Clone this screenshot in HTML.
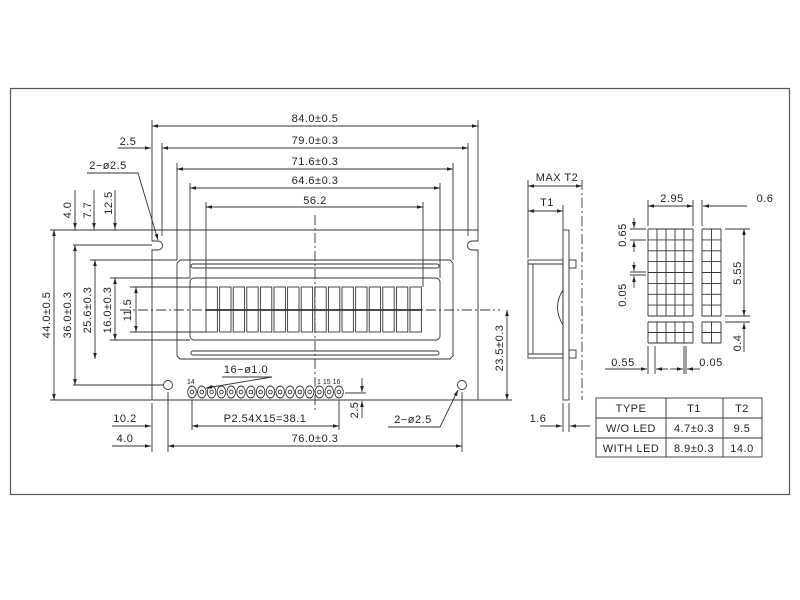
<!DOCTYPE html>
<html><head><meta charset="utf-8"><style>
html,body{margin:0;padding:0;background:#fff;}
svg{display:block;}
text{font-family:"Liberation Sans",sans-serif;font-size:11px;fill:#222;letter-spacing:0.5px;}
.s{font-size:7px;letter-spacing:0;}
</style></head><body>
<svg width="800" height="600" viewBox="0 0 800 600" xmlns="http://www.w3.org/2000/svg">
<defs>
<marker id="a" viewBox="0 0 10 6" refX="10" refY="3" markerWidth="7" markerHeight="4" orient="auto-start-reverse"><path d="M0,0L10,3L0,6z" fill="#222"/></marker>
</defs>
<rect x="10.5" y="88.5" width="779" height="406" fill="none" stroke="#555" stroke-width="1.2"/>
<g fill="none" stroke="#333" stroke-width="0.9">
<path d="M152,230 H478 V241 H472 A4,4 0 0 0 472,250 H478 V400 H152 V250 H158 A4,4 0 0 0 158,241 H152 Z"/>
<path d="M180,260 H450 L453,263 V356 L450,359 H180 L177,356 V263 Z"/>
<rect x="190" y="278" width="250" height="62" rx="4"/>
<rect x="191" y="264" width="248" height="4" rx="2"/>
<rect x="191" y="351" width="248" height="4" rx="2"/>
<g>
<rect x="206" y="287" width="11.4" height="45"/><rect x="219.6" y="287" width="11.4" height="45"/><rect x="233.2" y="287" width="11.4" height="45"/><rect x="246.8" y="287" width="11.4" height="45"/><rect x="260.4" y="287" width="11.4" height="45"/><rect x="274" y="287" width="11.4" height="45"/><rect x="287.6" y="287" width="11.4" height="45"/><rect x="301.2" y="287" width="11.4" height="45"/><rect x="314.8" y="287" width="11.4" height="45"/><rect x="328.4" y="287" width="11.4" height="45"/><rect x="342" y="287" width="11.4" height="45"/><rect x="355.6" y="287" width="11.4" height="45"/><rect x="369.2" y="287" width="11.4" height="45"/><rect x="382.8" y="287" width="11.4" height="45"/><rect x="396.4" y="287" width="11.4" height="45"/><rect x="410" y="287" width="11.4" height="45"/>
</g>
<circle cx="168" cy="385" r="4.5"/><circle cx="462" cy="385" r="4.5"/>
<g>
<ellipse cx="192" cy="392" rx="4.3" ry="6"/><ellipse cx="201.8" cy="392" rx="4.3" ry="6"/><ellipse cx="211.6" cy="392" rx="4.3" ry="6"/><ellipse cx="221.4" cy="392" rx="4.3" ry="6"/><ellipse cx="231.2" cy="392" rx="4.3" ry="6"/><ellipse cx="241" cy="392" rx="4.3" ry="6"/><ellipse cx="250.8" cy="392" rx="4.3" ry="6"/><ellipse cx="260.6" cy="392" rx="4.3" ry="6"/><ellipse cx="270.4" cy="392" rx="4.3" ry="6"/><ellipse cx="280.2" cy="392" rx="4.3" ry="6"/><ellipse cx="290" cy="392" rx="4.3" ry="6"/><ellipse cx="299.8" cy="392" rx="4.3" ry="6"/><ellipse cx="309.6" cy="392" rx="4.3" ry="6"/><ellipse cx="319.4" cy="392" rx="4.3" ry="6"/><ellipse cx="329.2" cy="392" rx="4.3" ry="6"/><ellipse cx="339" cy="392" rx="4.3" ry="6"/>
<circle cx="192" cy="392" r="1.8"/><circle cx="201.8" cy="392" r="1.8"/><circle cx="211.6" cy="392" r="1.8"/><circle cx="221.4" cy="392" r="1.8"/><circle cx="231.2" cy="392" r="1.8"/><circle cx="241" cy="392" r="1.8"/><circle cx="250.8" cy="392" r="1.8"/><circle cx="260.6" cy="392" r="1.8"/><circle cx="270.4" cy="392" r="1.8"/><circle cx="280.2" cy="392" r="1.8"/><circle cx="290" cy="392" r="1.8"/><circle cx="299.8" cy="392" r="1.8"/><circle cx="309.6" cy="392" r="1.8"/><circle cx="319.4" cy="392" r="1.8"/><circle cx="329.2" cy="392" r="1.8"/><circle cx="339" cy="392" r="1.8"/>
</g>
<path d="M120,310 H500" stroke-dasharray="10,3,2,3"/>
<path d="M206,310 H422" stroke-width="1.8"/>
<path d="M315,215 V412" stroke-dasharray="10,3,2,3"/>
<path d="M152,120 V230 M478,120 V230 M162,143 V236 M468,143 V236 M177,163 V260 M453,163 V260 M190,183 V278 M440,183 V278 M206,202 V287 M423,202 V287"/>
<path d="M50,230 H152 M73,245 H152 M90,260 H177 M110,278 H190 M110,340 H190 M130,287 H206 M130,332 H206 M73,385 H163 M50,400 H152 M478,400 H512"/>
<path d="M152,403 V452 M168,392 V452 M462,392 V452 M192,400 V430 M339,400 V430 M345,393 H366 M345,400 H366"/>
<path d="M75,190 V230 M94,190 V230 M115,190 V230"/>
<g marker-start="url(#a)" marker-end="url(#a)">
<path d="M152,126 H478"/><path d="M162,148 H468"/><path d="M177,169 H453"/><path d="M190,188 H440"/><path d="M206,207 H423"/>
<path d="M54,230 V400"/><path d="M75,245 V385"/><path d="M95,260 V359"/><path d="M115,278 V340"/><path d="M136,287 V332"/>
<path d="M192,426 H339"/><path d="M168,446 H462"/><path d="M507,310 V400"/>
</g>
<g marker-end="url(#a)">
<path d="M118,148 H151"/><path d="M75,212 V229"/><path d="M94,212 V229"/><path d="M115,212 V229"/>
<path d="M112,426 H151"/><path d="M112,446 H151"/><path d="M362,378 V392"/><path d="M362,418 V401"/>
<path d="M87,173 H138 L158,240"/><path d="M222,377 H272 L206,388"/><path d="M388,427 H440 L458,390"/>
</g>
<rect x="563" y="230" width="6" height="170"/>
<rect x="528" y="260" width="35" height="98"/>
<path d="M528,264 H563 M528,354 H563 M533,264 V354"/>
<rect x="569" y="260" width="7" height="8"/><rect x="569" y="350" width="7" height="8"/>
<path d="M563,290 Q552,307 563,325"/>
<path d="M528,180 V258 M563,205 V230 M563,403 V432 M569,403 V432"/>
<path d="M582,180 V400" stroke-dasharray="10,3,2,3"/>
<g marker-start="url(#a)" marker-end="url(#a)"><path d="M528,186 H582"/><path d="M528,211 H563"/></g>
<g marker-end="url(#a)"><path d="M540,426 H562"/><path d="M590,426 H570"/></g>
<path d="M648,229 V316 M657,229 V316 M666,229 V316 M675,229 V316 M684,229 V316 M693,229 V316
M648,229 H693 M648,239.9 H693 M648,250.8 H693 M648,261.6 H693 M648,272.5 H693 M648,283.4 H693 M648,294.3 H693 M648,305.1 H693 M648,316 H693
M648,322 V343 M657,322 V343 M666,322 V343 M675,322 V343 M684,322 V343 M693,322 V343 M648,322 H693 M648,332.5 H693 M648,343 H693
M702,229 V316 M711.5,229 V316 M721,229 V316 M702,229 H721 M702,239.9 H721 M702,250.8 H721 M702,261.6 H721 M702,272.5 H721 M702,283.4 H721 M702,294.3 H721 M702,305.1 H721 M702,316 H721
M702,322 V343 M711.5,322 V343 M721,322 V343 M702,322 H721 M702,332.5 H721 M702,343 H721"/>
<path d="M648,200 V226 M693,200 V226 M702,200 V226 M725,229 H750 M725,316 H750 M725,322 H750 M648,346 V374 M655,346 V374 M684,346 V374 M686,346 V374 M630,229 H646 M630,240 H646 M630,272 H646 M630,275 H646"/>
<g marker-start="url(#a)" marker-end="url(#a)"><path d="M648,206 H693"/><path d="M744,229 V316"/></g>
<g marker-end="url(#a)"><path d="M747,206 H703"/><path d="M744,352 V323"/><path d="M605,369 H647"/><path d="M668,369 H656"/><path d="M700,369 H687"/><path d="M670,369 H683"/><path d="M634,218 V228"/><path d="M634,252 V241"/><path d="M634,262 V271"/><path d="M634,288 V276"/></g>
<rect x="596" y="398" width="166" height="59"/>
<path d="M596,418 H762 M596,438 H762 M666,398 V457 M723,398 V457"/>
</g>
<g text-anchor="middle">
<text x="315" y="122">84.0±0.5</text>
<text x="315" y="144">79.0±0.3</text>
<text x="315" y="165">71.6±0.3</text>
<text x="315" y="184">64.6±0.3</text>
<text x="315" y="204">56.2</text>
<text x="128" y="145">2.5</text>
<text x="108" y="169">2−ø2.5</text>
<text x="246" y="373">16−ø1.0</text>
<text x="265" y="422">P2.54X15=38.1</text>
<text x="125" y="422">10.2</text>
<text x="125" y="442">4.0</text>
<text x="315" y="442">76.0±0.3</text>
<text x="413" y="423">2−ø2.5</text>
<text x="557" y="181">MAX T2</text>
<text x="547" y="206">T1</text>
<text x="538" y="422">1.6</text>
<text x="672" y="202">2.95</text>
<text x="765" y="202">0.6</text>
<text x="623" y="366">0.55</text>
<text x="711" y="366">0.05</text>
<text x="631" y="412">TYPE</text>
<text x="694" y="412">T1</text>
<text x="742" y="412">T2</text>
<text x="631" y="432">W/O LED</text>
<text x="694" y="432">4.7±0.3</text>
<text x="742" y="432">9.5</text>
<text x="631" y="452">WITH LED</text>
<text x="694" y="452">8.9±0.3</text>
<text x="742" y="452">14.0</text>
<text transform="translate(71,210) rotate(-90)">4.0</text>
<text transform="translate(91,210) rotate(-90)">7.7</text>
<text transform="translate(112,203) rotate(-90)">12.5</text>
<text transform="translate(50,315) rotate(-90)">44.0±0.5</text>
<text transform="translate(71,315) rotate(-90)">36.0±0.3</text>
<text transform="translate(91,310) rotate(-90)">25.6±0.3</text>
<text transform="translate(111,310) rotate(-90)">16.0±0.3</text>
<text transform="translate(131,310) rotate(-90)">11.5</text>
<text transform="translate(358,410) rotate(-90)">2.5</text>
<text transform="translate(503,348) rotate(-90)">23.5±0.3</text>
<text transform="translate(626,235) rotate(-90)">0.65</text>
<text transform="translate(626,295) rotate(-90)">0.05</text>
<text transform="translate(741,273) rotate(-90)">5.55</text>
<text transform="translate(741,343) rotate(-90)">0.4</text>
</g>
<text class="s" x="187" y="384">14</text>
<text class="s" x="317" y="384">1 15 16</text>
</svg>
</body></html>
